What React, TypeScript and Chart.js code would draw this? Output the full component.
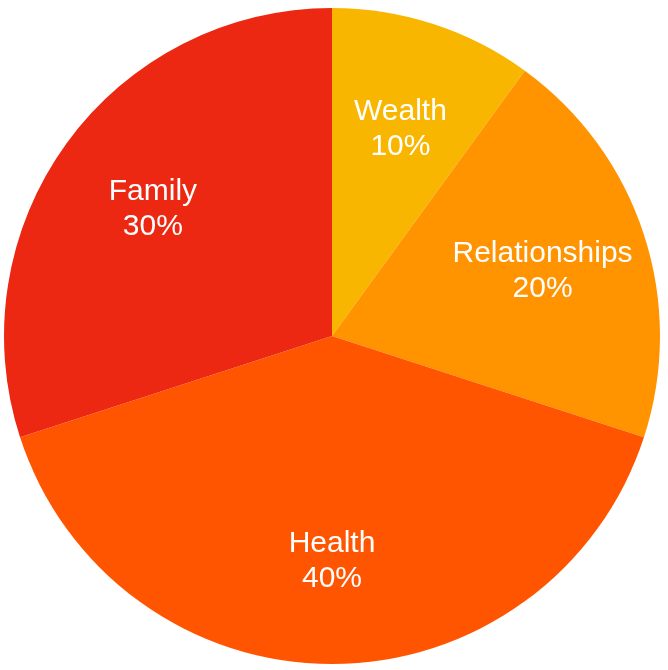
import React, { useEffect, useRef } from "react";
import { Chart, registerables } from "chart.js";

Chart.register(...registerables);

const categories = ["Wealth", "Relationships", "Health", "Family"];
const values = [10, 20, 40, 30];
const colors = ["#F8B600", "#FF9300", "#FF5500", "#EC2712"];

const labelPlugin = {
  id: "sliceLabels",
  afterDatasetsDraw(chart: any) {
    const ctx = chart.ctx;
    const meta = chart.getDatasetMeta(0);
    const total = values.reduce((a, b) => a + b, 0);
    ctx.save();
    ctx.fillStyle = "#ffffff";
    ctx.font = "30px 'Liberation Sans', Arial, Helvetica, sans-serif";
    ctx.textAlign = "center";
    ctx.textBaseline = "middle";
    meta.data.forEach((arc: any, i: number) => {
      const { x, y, startAngle, endAngle, outerRadius } = arc.getProps(
        ["x", "y", "startAngle", "endAngle", "outerRadius"],
        true
      );
      const mid = (startAngle + endAngle) / 2;
      const r = outerRadius * 0.675;
      const cx = x + Math.cos(mid) * r;
      const cy = y + Math.sin(mid) * r;
      const pct = Math.round((values[i] / total) * 100) + "%";
      ctx.fillText(categories[i], cx, cy - 14);
      ctx.fillText(pct, cx, cy + 21);
    });
    ctx.restore();
  },
};

export default function App() {
  const ref = useRef<HTMLCanvasElement>(null);
  useEffect(() => {
    document.body.style.margin = "0";
    const chart = new Chart(ref.current!, {
      type: "pie",
      data: {
        labels: categories,
        datasets: [
          {
            data: values,
            backgroundColor: colors,
            borderWidth: 0,
          },
        ],
      },
      options: {
        responsive: false,
        animation: false,
        layout: { padding: { left: 4, right: 8, top: 8, bottom: 6 } },
        plugins: {
          legend: { display: false },
          tooltip: { enabled: false },
        },
      },
      plugins: [labelPlugin],
    });
    return () => chart.destroy();
  }, []);
  return (
    <div style={{ position: "absolute", left: 0, top: 0, width: 668, height: 670, background: "#fff" }}>
      <canvas ref={ref} width={668} height={670} />
    </div>
  );
}
